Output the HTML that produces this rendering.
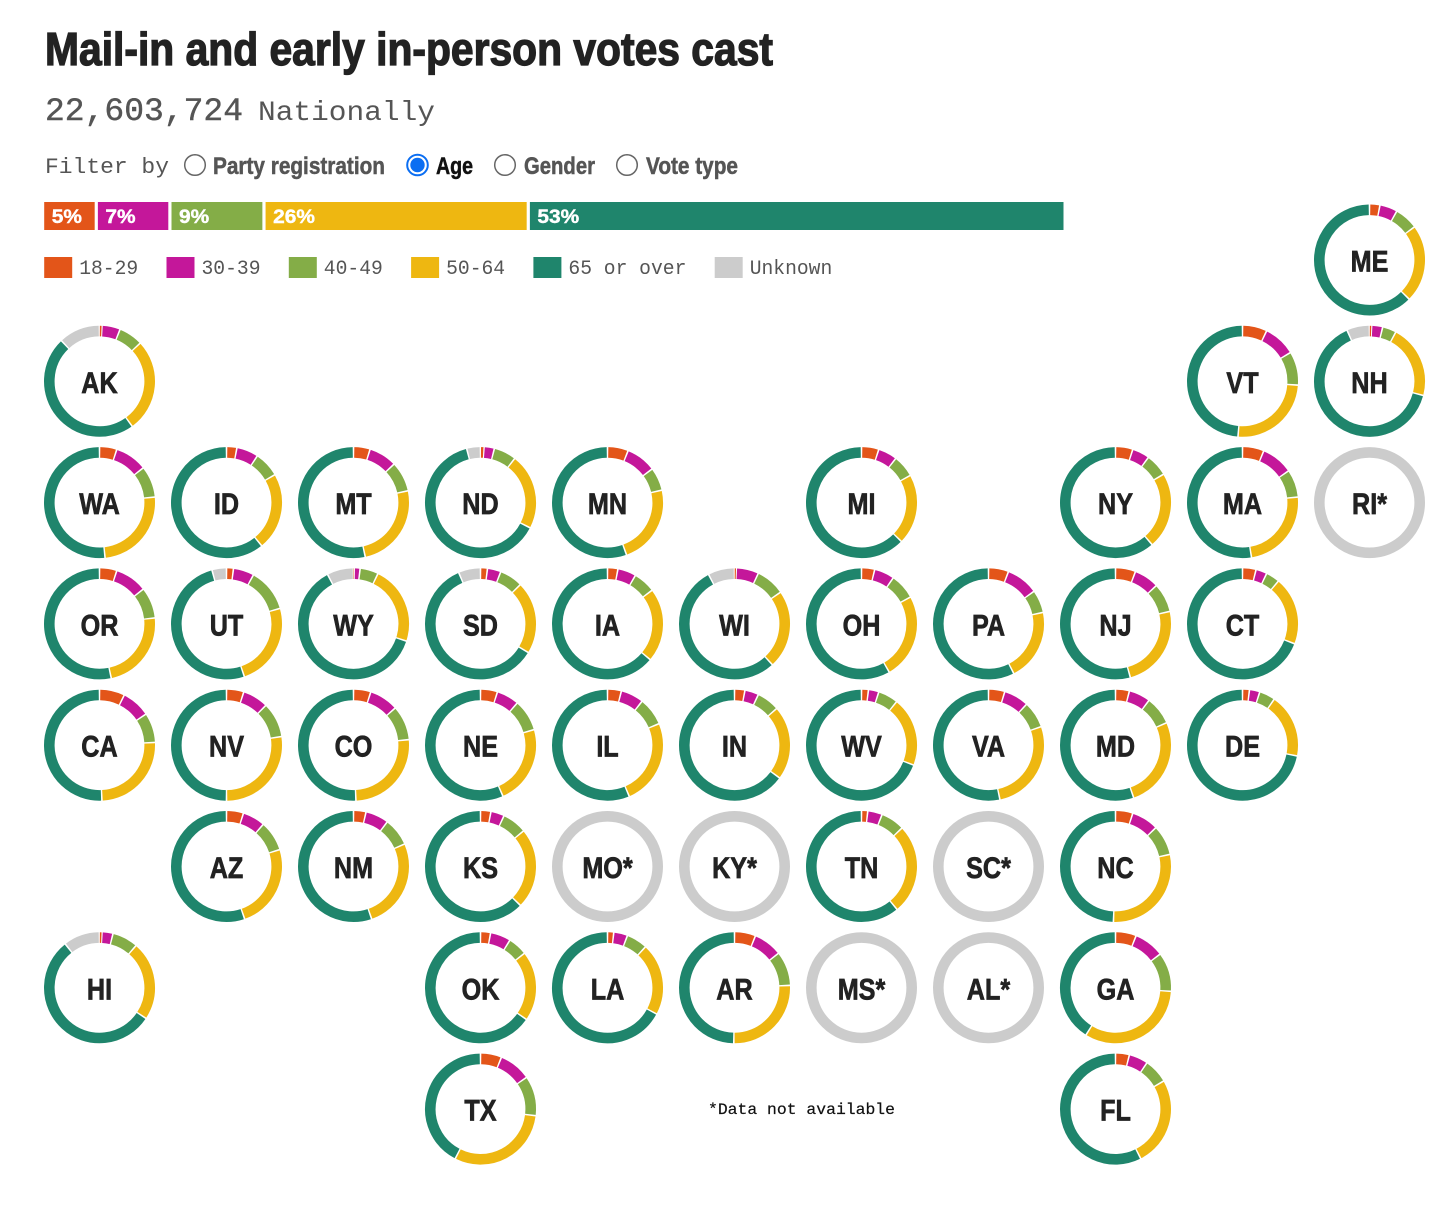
<!DOCTYPE html>
<html lang="en">
<head>
<meta charset="utf-8">
<title>Mail-in and early in-person votes cast</title>
<style>
  html, body { margin: 0; padding: 0; background: #fff; }
  svg { display: block; }
  .sans { font-family: "Liberation Sans", sans-serif; }
  .mono { font-family: "Liberation Mono", monospace; }
</style>
</head>
<body>
<svg id="chart" xmlns="http://www.w3.org/2000/svg" width="1456" height="1205" viewBox="0 0 1456 1205">
  <rect x="0" y="0" width="1456" height="1205" fill="#ffffff"/>

  <text class="sans" x="45" y="65" font-size="46" font-weight="700" fill="#222222" stroke="#222222" stroke-width="1.3" textLength="728" lengthAdjust="spacingAndGlyphs">Mail-in and early in-person votes cast</text>

  <text class="mono" x="45" y="120" font-size="32" fill="#555555" stroke="#555555" stroke-width="0.4" textLength="198" lengthAdjust="spacingAndGlyphs">22,603,724</text>
  <text class="mono" x="258" y="120" font-size="28" fill="#555555" textLength="177" lengthAdjust="spacingAndGlyphs">Nationally</text>

  <text class="mono" x="45" y="173" font-size="22" fill="#555555" textLength="124" lengthAdjust="spacingAndGlyphs">Filter by</text>

  <g>
    <circle cx="195" cy="165" r="10.3" fill="#ffffff" stroke="#666666" stroke-width="1.5"/>
    <text class="sans" x="213" y="174" font-size="24" font-weight="700" fill="#555555" stroke="#555555" stroke-width="0.5" textLength="172" lengthAdjust="spacingAndGlyphs">Party registration</text>
  </g>
  <g>
    <circle cx="417.5" cy="165" r="10.3" fill="#ffffff" stroke="#0b6ef2" stroke-width="2"/>
    <circle cx="417.5" cy="165" r="7.2" fill="#0b6ef2"/>
    <text class="sans" x="436" y="174" font-size="24" font-weight="700" fill="#111111" stroke="#111111" stroke-width="0.5" textLength="37" lengthAdjust="spacingAndGlyphs">Age</text>
  </g>
  <g>
    <circle cx="505" cy="165" r="10.3" fill="#ffffff" stroke="#666666" stroke-width="1.5"/>
    <text class="sans" x="524" y="174" font-size="24" font-weight="700" fill="#555555" stroke="#555555" stroke-width="0.5" textLength="71" lengthAdjust="spacingAndGlyphs">Gender</text>
  </g>
  <g>
    <circle cx="627" cy="165" r="10.3" fill="#ffffff" stroke="#666666" stroke-width="1.5"/>
    <text class="sans" x="646" y="174" font-size="24" font-weight="700" fill="#555555" stroke="#555555" stroke-width="0.5" textLength="92" lengthAdjust="spacingAndGlyphs">Vote type</text>
  </g>

  <g id="national-bar"></g>
  <g id="legend"></g>
  <g id="rings"></g>

  <text class="mono" x="708" y="1114" font-size="16" fill="#111111" stroke="#111111" stroke-width="0.2" textLength="187" lengthAdjust="spacingAndGlyphs">*Data not available</text>
</svg>

<script>
// Age categories
const ageGroups = ["18-29", "30-39", "40-49", "50-64", "65 or over", "Unknown"];

// National shares, percent
const nationalShares = [5.25, 7.2, 9.2, 25.85, 52.5];

// Tile map layout: state codes by map row, "." marks an empty tile
const tileRows = [
  ". . . . . . . . . . ME",
  "AK . . . . . . . . VT NH",
  "WA ID MT ND MN . MI . NY MA RI",
  "OR UT WY SD IA WI OH PA NJ CT .",
  "CA NV CO NE IL IN WV VA MD DE .",
  ". AZ NM KS MO KY TN SC NC . .",
  "HI . . OK LA AR MS AL GA . .",
  ". . . TX . . . . FL . ."
];

// States in the order of the share arrays below
const states = ["ME","AK","VT","NH","WA","ID","MT","ND","MN","MI","NY","MA","OR","UT","WY","SD","IA","WI","OH","PA","NJ","CT","CA","NV","CO","NE","IL","IN","WV","VA","MD","DE","AZ","NM","KS","TN","NC","HI","OK","LA","AR","GA","TX","FL"];

// Share of votes by age group per state, percent
const age18to29 = [3,0.7,7.1,0.6,5,3,4.8,1,6,5,5,6.2,5,2,0.2,2,3,0.5,3.8,5.8,5.8,3.9,7.3,5,5,4.9,4,3,2,4.7,4,2,4.9,3.6,3,1.8,5,0.7,2.9,1.8,6.1,6,6.1,4];
const age30to39 = [5.1,5.3,9.3,3.2,9.3,6.3,8.1,3,8.7,5.5,5,9.2,9.3,6,1.7,3.9,5.3,6.5,5.8,9.3,7.2,3.2,8.3,7.4,8.4,6.5,6.6,4,3,7.2,6.2,3,6.5,6.7,3.9,4.2,7.8,3.2,5.9,4,8.3,8.7,9.3,5.5];
const age40to49 = [6.8,7,9.7,4,9.1,7.4,8.7,6.5,6.7,6.4,6.5,8,9,12.5,5.3,6.7,6.4,8.4,7.4,6.6,8.4,4,8.6,10.1,10,9.1,8.1,6.6,5.8,7.7,8.2,4.6,8.7,8.1,7.1,6.9,8.7,7.5,5.6,6.1,9.9,11.3,11.5,7.1];
const age50to64 = [22.5,27,25.2,21.3,25,22.5,25,22,23,20.4,22.1,24,23.3,24.3,22.8,21,21.4,22.7,24.7,20.8,24.3,19.7,25.1,27.5,25.9,22.9,24.9,21.4,20,27.1,26.3,18.5,24.6,26.3,23.3,26.1,29.1,23,20.2,20.9,25.9,32.9,30.6,25.9];
const age65plus = [62.6,48,48.7,64.3,51.6,61,53.4,63.5,55.5,62.7,61.4,52.6,53.4,51,62.3,60,63.9,54.2,58.3,57.5,54.3,69.2,50.7,50,50.7,56.6,56.4,65,69.2,53.3,55.3,71.9,55.3,55.3,62.7,61,49.4,55.4,65.4,67.2,49.8,41.1,42.5,57.5];
const ageUnknown = [0,12,0,6.6,0,0,0,4,0,0,0,0,0,4.2,7.7,6.4,0,7.7,0,0,0,0,0,0,0,0,0,0,0,0,0,0,0,0,0,0,0,10.6,0,0,0,0,0,0];

// States with no age data; drawn as full grey rings
const missingStates = ["RI","MO","KY","SC","MS","AL"];

const seriesByAge = [age18to29, age30to39, age40to49, age50to64, age65plus, ageUnknown];
const ageColors = ["#e35519", "#c4179a", "#84ad47", "#eeb711", "#1f856c", "#cccccc"];

const SVGNS = "http://www.w3.org/2000/svg";
function make(tag, attrs, parent) {
  const el = document.createElementNS(SVGNS, tag);
  for (const k in attrs) el.setAttribute(k, attrs[k]);
  parent.appendChild(el);
  return el;
}

/* ---------- axis functions ---------- */
const barLeft = 44.2, barPxPerPct = 10.225, barGap = 3.2;
const barX = v => barLeft + v * barPxPerPct;
const tileX = col => 99.5 + 127 * col;
const tileY = row => 260 + 121.3 * row;
const pctToAngle = p => p * 3.6 * Math.PI / 180;

/* ---------- national stacked bar ---------- */
const barGroup = document.getElementById("national-bar");
let cumulative = 0;
nationalShares.forEach((share, i) => {
  const x0 = barX(cumulative);
  const x1 = barX(cumulative + share) - barGap;
  const rect = make("rect", { x: x0, y: 202, width: x1 - x0, height: 28, fill: ageColors[i] }, barGroup);
  
  
  const label = make("text", {
    transform: "translate(" + (x0 + 7.5) + " 223) scale(1.1 1)",
    "font-size": 19, "font-weight": 700, fill: "#ffffff", stroke: "#ffffff", "stroke-width": 0.4, class: "sans"
  }, barGroup);
  
  
  label.textContent = Math.round(share) + "%";
  cumulative += share;
});

/* ---------- legend ---------- */
const legendGroup = document.getElementById("legend");
let legendX = 44.2;
ageGroups.forEach((name, i) => {
  const swatch = make("rect", { x: legendX, y: 257, width: 28, height: 21, fill: ageColors[i] }, legendGroup);
  
  
  const labelWidth = name.length * 11.8;
  const label = make("text", { x: legendX + 35, y: 274, "font-size": 20, fill: "#555555", class: "mono", textLength: labelWidth, lengthAdjust: "spacingAndGlyphs" }, legendGroup);
  
  
  label.textContent = name;
  legendX += 35 + labelWidth + 28.3;
});

/* ---------- state rings ---------- */
const ringGroup = document.getElementById("rings");
const ringRadius = 50.2, ringStroke = 10.6;
const padAngle = 1.5 / ringRadius;

function arcPath(cx, cy, a0, a1) {
  const x0 = cx + ringRadius * Math.sin(a0), y0 = cy - ringRadius * Math.cos(a0);
  const x1 = cx + ringRadius * Math.sin(a1), y1 = cy - ringRadius * Math.cos(a1);
  const large = a1 - a0 > Math.PI ? 1 : 0;
  return "M" + x0 + " " + y0 + "A" + ringRadius + " " + ringRadius + " 0 " + large + " 1 " + x1 + " " + y1;
}

tileRows.forEach((rowText, row) => {
  rowText.split(" ").forEach((code, col) => {
    if (code === ".") return;
    const cx = tileX(col), cy = tileY(row);
    const tile = make("g", {}, ringGroup);
    
    

    const idx = states.indexOf(code);
    if (missingStates.includes(code) || idx < 0) {
      const ring = make("circle", { cx: cx, cy: cy, r: ringRadius, fill: "none", stroke: ageColors[5], "stroke-width": ringStroke }, tile);
      
      
    } else {
      const values = seriesByAge.map(s => s[idx]);
      const total = values.reduce((a, b) => a + b, 0);
      let running = 0;
      values.forEach((v, i) => {
        if (v <= 0) return;
        const start = pctToAngle(running / total * 100);
        const end = pctToAngle((running + v) / total * 100);
        running += v;
        const span = end - start;
        const pad = Math.min(padAngle, span * 0.3);
        const arc = make("path", { d: arcPath(cx, cy, start + pad / 2, end - pad / 2), fill: "none", stroke: ageColors[i], "stroke-width": ringStroke }, tile);
        
        
      });
    }

    const label = make("text", {
      transform: "translate(" + cx + " " + (cy + 11.5) + ") scale(0.84 1)",
      "text-anchor": "middle", "font-size": 30, "font-weight": 700,
      fill: "#222222", stroke: "#222222", "stroke-width": 0.7, class: "sans"
    }, tile);
    
    
    label.textContent = code + (missingStates.includes(code) ? "*" : "");
  });
});
</script>
</body>
</html>
